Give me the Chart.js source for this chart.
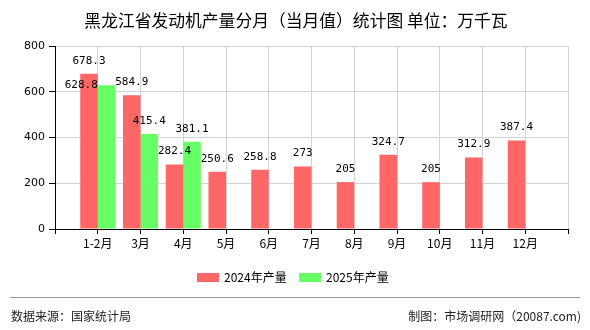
<!DOCTYPE html>
<html>
<head>
<meta charset="utf-8">
<title>黑龙江省发动机产量分月（当月值）统计图</title>
<script src="https://cdn.jsdelivr.net/npm/chart.js@4"></script>
<style>
  html, body { margin: 0; padding: 0; background: #fff; }
</style>
</head>
<body>
<canvas id="engineChart" width="590" height="330"></canvas>
<script>
const titleText = '黑龙江省发动机产量分月（当月值）统计图 单位：万千瓦';
const months = ['1-2月', '3月', '4月', '5月', '6月', '7月', '8月', '9月', '10月', '11月', '12月'];
const output2024 = [678.3, 584.9, 282.4, 250.6, 258.8, 273, 205, 324.7, 205, 312.9, 387.4];
const output2025 = [628.8, 415.4, 381.1];
const seriesNames = ['2024年产量', '2025年产量'];
const seriesColors = ['#ff6666', '#66ff66'];
const yTicks = [0, 200, 400, 600, 800];
const sourceText = '数据来源：国家统计局';
const creditText = '制图：市场调研网（20087.com)';

const cjk = '"Noto Sans CJK SC", "DejaVu Sans", sans-serif';

// blank slot on each side so the months sit one step in from the axis ends
const labels = [''].concat(months, ['']);
const pad = (arr) => {
    const out = [null].concat(arr);
    while (out.length < labels.length) out.push(null);
    return out;
};

// value text above each bar; the 2025 1-2月 label sits to the left so it
// does not run into the 2024 one
const valueLabels = {
    id: 'valueLabels',
    afterDatasetsDraw(chart) {
        const ctx = chart.ctx;
        ctx.save();
        ctx.font = '11px "DejaVu Sans Mono", monospace';
        ctx.fillStyle = '#000';
        ctx.textBaseline = 'middle';
        chart.data.datasets.forEach((ds, di) => {
            chart.getDatasetMeta(di).data.forEach((bar, i) => {
                const v = ds.data[i];
                if (v === null || v === undefined) return;
                if (di === 1 && i === 1) {
                    ctx.textAlign = 'right';
                    ctx.fillText(String(v), bar.x - bar.width / 2, bar.y);
                } else {
                    ctx.textAlign = 'center';
                    ctx.fillText(String(v), bar.x, bar.y - 13);
                }
            });
        });
        ctx.restore();
    }
};

// title, legend and footer
const decorations = {
    id: 'decorations',
    afterDraw(chart) {
        const ctx = chart.ctx;
        ctx.save();
        ctx.fillStyle = '#000';
        ctx.textBaseline = 'middle';

        ctx.font = '16.8px ' + cjk;
        ctx.textAlign = 'center';
        ctx.fillText(titleText, 296, 21);

        ctx.font = '12px ' + cjk;
        ctx.textAlign = 'left';
        const legendX = [197, 299];
        chart.data.datasets.forEach((ds, di) => {
            ctx.fillStyle = ds.backgroundColor;
            ctx.fillRect(legendX[di], 273, 22, 9);
            ctx.fillStyle = '#000';
            ctx.fillText(ds.label, legendX[di] + 27, 277.5);
        });

        ctx.strokeStyle = '#999';
        ctx.lineWidth = 1;
        ctx.beginPath();
        ctx.moveTo(10, 297.5);
        ctx.lineTo(580, 297.5);
        ctx.stroke();

        ctx.fillStyle = '#222';
        ctx.textAlign = 'left';
        ctx.fillText(sourceText, 11, 316);
        ctx.textAlign = 'right';
        ctx.fillText(creditText, 581, 316);
        ctx.restore();
    }
};

new Chart(document.getElementById('engineChart'), {
    type: 'bar',
    data: {
        labels: labels,
        datasets: [
            {
                label: seriesNames[0],
                data: pad(output2024),
                backgroundColor: seriesColors[0]
            },
            {
                label: seriesNames[1],
                data: pad(output2025),
                backgroundColor: seriesColors[1]
            }
        ]
    },
    options: {
        responsive: false,
        animation: false,
        layout: { padding: { left: 0, right: 22, top: 46, bottom: 0 } },
        datasets: {
            bar: { categoryPercentage: 0.82, barPercentage: 1 }
        },
        plugins: {
            legend: { display: false },
            title: { display: false },
            tooltip: { enabled: false }
        },
        scales: {
            x: {
                offset: false,
                grid: { offset: false, color: '#d3d3d3', tickColor: '#000', tickLength: 5 },
                border: { color: '#000' },
                ticks: {
                    color: '#000',
                    padding: 2,
                    autoSkip: false,
                    maxRotation: 0,
                    font: { family: cjk, size: 12 }
                },
                afterFit(scale) { scale.height = 101; }
            },
            y: {
                min: 0,
                max: 800,
                afterBuildTicks(scale) { scale.ticks = yTicks.map(v => ({ value: v })); },
                grid: { color: '#d3d3d3', tickColor: '#000', tickLength: 6 },
                border: { color: '#000' },
                ticks: {
                    color: '#000',
                    padding: 4,
                    font: { family: '"DejaVu Sans", sans-serif', size: 11 }
                },
                afterFit(scale) { scale.width = 55; }
            }
        }
    },
    plugins: [valueLabels, decorations]
});
</script>
</body>
</html>
